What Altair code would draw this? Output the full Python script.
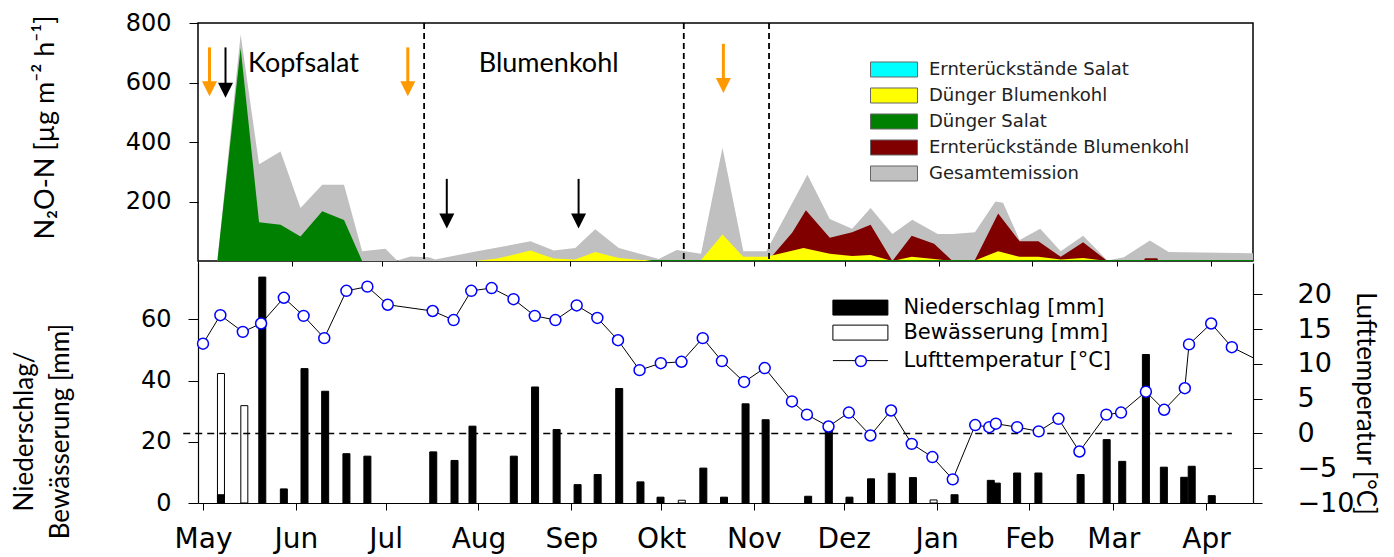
import altair as alt
import pandas as pd

BASE = pd.Timestamp("2010-05-01")

# ---------------- top panel data (N2O-N emissions) ----------------
series_names = ["Ernterückstände Salat", "Dünger Blumenkohl", "Dünger Salat",
                "Ernterückstände Blumenkohl", "Gesamtemission"]
series_colors = ["#00FFFF", "#FFFF00", "#008000", "#800000", "#C0C0C0"]

grey_days = [6.4, 14.1, 20.2, 27.3, 33.9, 41.1, 48.3, 54.3, 62.0, 65.9, 70.3, 76.4, 78.5,
             92.3, 110.0, 117.7, 124.8, 131.4, 139.2, 152.4, 158.4, 166.4, 173.5, 180.4,
             188.0, 201.6, 209.0, 216.4, 222.5, 229.7, 236.3, 244.7, 249.6, 257.0, 263.8,
             266.3, 271.8, 278.6, 285.4, 292.8, 300.8, 306.3, 314.9, 321.1, 349.0]
grey_vals = [0, 761, 325, 368, 178, 256, 256, 33, 41, 2, 15, 13, 5,
             33, 66, 35, 44, 107, 44, 7, 37, 24, 381, 33,
             33, 290, 141, 108, 178, 91, 139, 91, 91, 97, 200,
             196, 71, 108, 33, 85, 2, 13, 69, 30, 26]

green_days = [6.4, 14.1, 20.2, 27.3, 33.9, 41.1, 48.3, 54.3, 148.0, 150.0, 349.0]
green_vals = [0, 716, 130, 122, 82, 167, 138, 0, 0, 3, 3]

yellow_days = [91.7, 99.0, 110.0, 117.7, 124.7, 131.4, 139.2, 146.2, 158.5, 166.4, 173.5,
               180.4, 188.0, 200.3, 209.0, 216.4, 222.5, 229.7, 236.1, 243.5, 249.6, 257.0,
               264.7, 271.8, 278.0, 285.4, 292.8, 300.8, 349.0]
yellow_vals = [0, 8, 35, 8, 5, 30, 10, 3, 3, 3, 89,
               14, 14, 44, 24, 17, 20, 0, 14, 7, 0, 2,
               33, 14, 14, 5, 10, 0, 0]

darkred_days = [188.5, 196.6, 201.1, 209.0, 216.4, 222.5, 229.7, 236.1, 243.5, 249.6, 257.0,
                264.7, 271.8, 278.0, 285.4, 292.8, 300.8, 312.8, 313.3, 317.3, 317.8]
darkred_vals = [0, 96, 171, 78, 97, 122, 0, 85, 58, 0, 3,
                160, 66, 66, 14, 63, 0, 0, 9, 9, 0]

cyan_days = [6.4, 349.0]
cyan_vals = [0, 0]

orange_arrow_days = [3.8, 69.4, 173.8]
orange_arrow_top = [718, 718, 730]
orange_arrow_tip = [554, 554, 565]
black_arrow_days = [9.1, 82.3, 125.9]
black_arrow_top = [718, 276, 276]
black_arrow_tip = [549, 109, 109]

crop_labels = ["Kopfsalat", "Blumenkohl"]
crop_label_days = [34.9, 116.0]
crop_label_vals = [636, 636]

season_break_days = [74.8, 160.7, 188.9]

# ---------------- bottom panel data ----------------
precip_days = [6.0, 19.8, 27.0, 33.9, 40.8, 47.9, 54.9, 76.9, 84.0, 90.0, 103.8, 110.9, 118.1,
               125.1, 131.8, 139.0, 146.1, 152.8, 167.1, 174.0, 181.2, 187.9, 202.1, 209.0,
               215.9, 223.1, 230.0, 237.1, 251.0, 263.1, 265.1, 271.9, 279.0, 293.1, 301.8,
               307.0, 314.9, 320.9, 327.7, 330.2, 336.9]
precip_mm = [2.7, 73.8, 4.6, 43.9, 36.5, 16.1, 15.3, 16.7, 13.9, 25.1, 15.3, 37.9, 24.0,
             6.0, 9.3, 37.4, 6.9, 1.9, 11.4, 1.9, 32.4, 27.2, 2.2, 24.0,
             1.9, 7.9, 9.7, 8.3, 2.7, 7.4, 6.5, 9.8, 9.8, 9.3, 20.7,
             13.6, 48.5, 11.7, 8.4, 12.0, 2.4]
irrig_days = [6.0, 13.8, 159.9, 244.0]
irrig_mm = [42.3, 31.8, 0.9, 1.0]

temp_days = [0.0, 5.8, 13.3, 19.4, 27.0, 33.6, 40.5, 47.9, 54.9, 61.7,
             76.7, 83.7, 89.6, 96.4, 103.7, 110.8, 117.7, 124.8, 131.7, 138.6,
             145.8, 152.9, 159.8, 166.9, 173.3, 180.7, 187.6, 196.7, 201.7, 208.9,
             215.7, 222.9, 229.8, 236.7, 243.6, 250.4, 257.9, 262.6, 264.8, 271.9,
             279.1, 285.7, 292.7, 301.7, 306.6, 314.9, 321.0, 327.9, 329.3, 336.7,
             343.6, 352.0]
temp_c = [12.9, 17.0, 14.6, 15.8, 19.5, 16.9, 13.7, 20.5, 21.1, 18.5,
          17.6, 16.3, 20.5, 20.9, 19.3, 16.9, 16.3, 18.4, 16.6, 13.4,
          9.1, 10.1, 10.3, 13.7, 10.4, 7.4, 9.4, 4.6, 2.7, 1.0,
          3.0, -0.3, 3.3, -1.5, -3.4, -6.6, 1.2, 0.9, 1.4, 0.9,
          0.3, 2.1, -2.6, 2.7, 3.0, 6.0, 3.4, 6.5, 12.8, 15.8,
          12.4, 10.6]
zero_line_days = [-6.6, 343.6]

months_de = ["Jan", "Feb", "Mar", "Apr", "May", "Jun", "Jul", "Aug", "Sep", "Okt", "Nov", "Dez"]
tick_months = [(2010, 5), (2010, 6), (2010, 7), (2010, 8), (2010, 9), (2010, 10), (2010, 11),
               (2010, 12), (2011, 1), (2011, 2), (2011, 3), (2011, 4)]

bar_labels = ["Niederschlag [mm]", "Bewässerung [mm]"]
temp_label = "Lufttemperatur [°C]"
marker_key = " "  # blank key of the circle-marker legend (drawn over the line legend)


def to_dates(days):
    return [BASE + pd.Timedelta(days=float(d)) for d in days]


area_df = pd.concat([
    pd.DataFrame({"date": to_dates(d), "value": v, "series": n})
    for n, d, v in [
        ("Gesamtemission", grey_days, grey_vals),
        ("Ernterückstände Blumenkohl", darkred_days, darkred_vals),
        ("Dünger Blumenkohl", yellow_days, yellow_vals),
        ("Dünger Salat", green_days, green_vals),
        ("Ernterückstände Salat", cyan_days, cyan_vals),
    ]
], ignore_index=True)

orange_df = pd.DataFrame({"date": to_dates(orange_arrow_days), "top": orange_arrow_top,
                          "tip": orange_arrow_tip})
black_df = pd.DataFrame({"date": to_dates(black_arrow_days), "top": black_arrow_top,
                         "tip": black_arrow_tip})
label_df = pd.DataFrame({"date": to_dates(crop_label_days), "value": crop_label_vals,
                         "label": crop_labels})
break_df = pd.DataFrame({"date": to_dates(season_break_days)})

precip_df = pd.DataFrame({"date": to_dates(precip_days), "mm": precip_mm, "typ": bar_labels[0]})
irrig_df = pd.DataFrame({"date": to_dates(irrig_days), "mm": irrig_mm, "typ": bar_labels[1]})
temp_df = pd.DataFrame({"date": to_dates(temp_days), "temp": temp_c, "lab": temp_label,
                        "lab2": marker_key, "day": temp_days})
zero_df = pd.DataFrame({"date": to_dates(zero_line_days[:1]), "date2": to_dates(zero_line_days[1:]),
                        "temp": [0.0]})

# ---------------- shared encodings ----------------
x_scale = alt.Scale(domain=[alt.DateTime(year=2010, month=5, date=1),
                            alt.DateTime(year=2011, month=4, date=15)], nice=False)
month_ticks = [alt.DateTime(year=y, month=m, date=1) for y, m in tick_months]

top_x_axis = alt.Axis(values=month_ticks, labels=False, ticks=True, tickSize=5, title=None,
                      domain=False, grid=False, tickColor="black", tickWidth=1)
x_top = alt.X("date:T", scale=x_scale, axis=top_x_axis)

bottom_x_axis = alt.Axis(values=month_ticks, labelExpr=f"{months_de}[month(datum.value)]",
                         tickSize=7, labelPadding=15, domain=True, grid=False, title=None,
                         labelFont="DejaVu Sans", labelFontSize=28, labelFlush=False,
                         labelOverlap=False, labelBound=False, labelColor="black",
                         domainColor="black", tickColor="black", domainWidth=1.2)
x_bottom = alt.X("date:T", scale=x_scale, axis=bottom_x_axis)

y_top_scale = alt.Scale(domain=[0, 800], nice=False)
top_y_axis = alt.Axis(values=[200, 400, 600, 800], title="N₂O-N [µg m⁻² h⁻¹]",
                      tickSize=9, labelPadding=18, domain=False, grid=False,
                      labelFont="DejaVu Sans", labelFontSize=24, labelColor="black",
                      labelFlush=False, tickColor="black",
                      titleFont="Lato, DejaVu Sans", titleFontSize=27, titleFontWeight="normal",
                      titleColor="black", titleX=-153, titleY=104, titleAngle=270,
                      titleAlign="center", titleBaseline="middle")


def ytop(field):
    return alt.Y(field, scale=y_top_scale, stack=None, axis=top_y_axis)


color = alt.Color("series:N", scale=alt.Scale(domain=series_names, range=series_colors),
                  legend=alt.Legend(orient="none", legendX=680, legendY=30.5, title=None,
                                    symbolType="M-1.516,-0.484H1.516V0.484H-1.516Z",
                                    symbolSize=961,
                                    symbolStrokeColor="#666666", symbolStrokeWidth=1,
                                    symbolOpacity=1, labelFont="DejaVu Sans", labelFontSize=18,
                                    labelColor="#222222", labelOffset=19, labelLimit=500,
                                    rowPadding=0, padding=0))

area_layers = []
for name in ["Gesamtemission", "Ernterückstände Blumenkohl", "Dünger Blumenkohl",
             "Dünger Salat", "Ernterückstände Salat"]:
    area_layers.append(
        alt.Chart(area_df).transform_filter(alt.datum.series == name)
        .mark_area(interpolate="linear", opacity=1)
        .encode(x=x_top, y=ytop("value:Q"), color=color)
    )

breaks = alt.Chart(break_df).mark_rule(color="black", strokeWidth=1.8, strokeDash=[6, 4]).encode(
    x=x_top)


def arrows(df, col, width):
    shaft = alt.Chart(df).mark_rule(color=col, strokeWidth=width, y2Offset=-8).encode(
        x=x_top, y=ytop("top:Q"), y2="tip:Q")
    head = alt.Chart(df).mark_point(shape="M-1,-1L1,-1L0,1Z", size=225, filled=True, color=col,
                                    opacity=1, yOffset=-7.5).encode(
        x=x_top, y=ytop("tip:Q"))
    return [shaft, head]


labels = alt.Chart(label_df).mark_text(font="Lato, DejaVu Sans", fontSize=27, color="black",
                                       align="center", baseline="alphabetic").encode(
    x=x_top, y=ytop("value:Q"), text="label:N")

top = alt.layer(*area_layers, breaks, *arrows(orange_df, "#FF9900", 3),
                *arrows(black_df, "black", 2), labels).properties(
    width=1055, height=238, view=alt.ViewBackground(stroke="black", strokeWidth=1.5))

# ---------------- bottom panel ----------------
y_mm_scale = alt.Scale(domain=[0, 78.4], nice=False)
mm_axis = alt.Axis(values=[0, 20, 40, 60], tickSize=10, labelPadding=17, grid=False,
                   title=["Niederschlag/", "Bewässerung  [mm]"],
                   labelFont="DejaVu Sans", labelFontSize=24, labelColor="black",
                   labelFlush=False, domainColor="black", tickColor="black", domainWidth=1.2,
                   titleFont="Lato, DejaVu Sans", titleFontSize=26, titleFontWeight="normal",
                   titleColor="black", titleX=-173.5, titleY=168, titleAngle=270,
                   titleAlign="center", titleBaseline="middle", titleLineHeight=36)
y_mm = alt.Y("mm:Q", scale=y_mm_scale, stack=None, axis=mm_axis)

fill = alt.Fill("typ:N", scale=alt.Scale(domain=bar_labels, range=["black", "white"]),
                legend=alt.Legend(orient="none", legendX=647.4, legendY=269.6, title=None,
                                  symbolType="M-1.91,-0.52H1.91V0.52H-1.91Z", symbolSize=829,
                                  symbolStrokeColor="black", symbolStrokeWidth=1, symbolOpacity=1,
                                  labelFont="DejaVu Sans", labelFontSize=21, labelColor="black",
                                  labelOffset=28, labelLimit=500, rowPadding=0, padding=0))

irrig_bars = alt.Chart(irrig_df).mark_bar(width=7, stroke="black", strokeWidth=1, opacity=1).encode(
    x=x_bottom, y=y_mm, fill=fill)
precip_bars = alt.Chart(precip_df).mark_bar(width=7, stroke="black", strokeWidth=1, opacity=1).encode(
    x=x_bottom, y=y_mm, fill=fill)

y_temp_scale = alt.Scale(domain=[-10, 24.5], nice=False)
temp_axis = alt.Axis(orient="right", values=[-10, -5, 0, 5, 10, 15, 20], tickSize=9,
                     labelPadding=35, labelAlign="left", grid=False,
                     title=temp_label, labelFont="DejaVu Sans", labelFontSize=27,
                     labelColor="black", labelFlush=False, domainColor="black",
                     tickColor="black", domainWidth=1.2,
                     titleFont="Lato, DejaVu Sans", titleFontSize=26,
                     titleFontWeight="normal", titleColor="black", titleX=111, titleY=140,
                     titleAngle=90, titleAlign="center", titleBaseline="middle")
y_temp = alt.Y("temp:Q", scale=y_temp_scale, axis=temp_axis)

zero_rule = alt.Chart(zero_df).mark_rule(color="black", strokeWidth=1.5, strokeDash=[7, 5]).encode(
    x=x_bottom, x2="date2:T", y=y_temp)

temp_line = alt.Chart(temp_df).mark_line(strokeWidth=1, clip=True).encode(
    x=x_bottom, y=y_temp,
    stroke=alt.Stroke("lab:N", scale=alt.Scale(domain=[temp_label], range=["black"]),
                      legend=alt.Legend(orient="none", legendX=647.4, legendY=322.6, title=None,
                                        symbolType="M-1.91,0H1.91", symbolSize=829,
                                        symbolStrokeColor="black", symbolStrokeWidth=1,
                                        labelFont="DejaVu Sans", labelFontSize=21,
                                        labelColor="black", labelOffset=28, labelLimit=500,
                                        padding=0)))

circle_path = "M-0.38,0A0.38,0.38 0 1,1 0.38,0A0.38,0.38 0 1,1 -0.38,0Z"
temp_points = alt.Chart(temp_df).transform_filter(alt.datum.day <= 349).mark_point(
    filled=False, color="#0000FF", fill="white", stroke="#0000FF", strokeWidth=1.5, size=829,
    opacity=1, fillOpacity=1, strokeOpacity=1).encode(
    x=x_bottom, y=y_temp,
    shape=alt.Shape("lab2:N", scale=alt.Scale(domain=[marker_key], range=[circle_path]),
                    legend=alt.Legend(orient="none", legendX=647.4, legendY=322.6, title=None,
                                      symbolSize=829, symbolStrokeWidth=1.5,
                                      labelFont="DejaVu Sans", labelFontSize=21,
                                      labelOpacity=0, labelOffset=28, labelLimit=500, padding=0)))

bars = alt.layer(irrig_bars, precip_bars)
temps = alt.layer(zero_rule, temp_line, temp_points)
bottom = alt.layer(bars, temps).resolve_scale(y="independent").properties(
    width=1055, height=240, view=alt.ViewBackground(stroke="transparent", strokeWidth=0))

chart = alt.vconcat(top, bottom, spacing=2, bounds="flush").properties(
    padding={"left": 3, "top": 2, "right": 5, "bottom": 2}
).configure_axis(grid=False).configure_view(strokeWidth=0)

chart.save("out.html", embed_options={"renderer": "svg", "actions": False})
